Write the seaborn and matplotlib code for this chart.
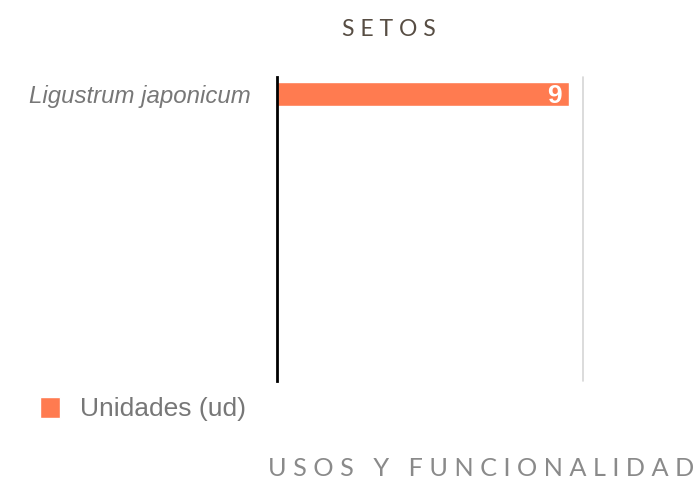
import matplotlib
matplotlib.use('Agg')
import matplotlib.pyplot as plt
import seaborn as sns
import pandas as pd
from matplotlib.patches import Patch

# data
species = ['Ligustrum japonicum']
units = [9]
series_name = 'Unidades (ud)'
title = 'SETOS'
footer = 'USOS Y FUNCIONALIDAD'

df = pd.DataFrame({'especie': species, 'unidades': units})

sns.set_style('white')
plt.rcParams['font.family'] = ['Liberation Sans', 'DejaVu Sans']

fig = plt.figure(figsize=(6.99, 4.83), dpi=100)
ax = fig.add_axes([277 / 699, 1 - 381 / 483, 306 / 699, 304 / 483])

sns.barplot(data=df, x='unidades', y='especie', orient='h', color='#FF7B50',
            saturation=1, width=0.8, ax=ax)

ax.set_xlim(0, 9 * 306 / 292)
ax.set_ylim(9.57, -0.567)
ax.set_xlabel('')
ax.set_ylabel('')
ax.set_xticks([])
for s in ['top', 'bottom', 'right']:
    ax.spines[s].set_visible(False)
ax.spines['left'].set_color('black')
ax.spines['left'].set_linewidth(2)
ax.axvline(ax.get_xlim()[1], color='#d6d6d6', lw=1.2, clip_on=False)

ax.tick_params(axis='y', length=0, pad=19)
for lbl in ax.get_yticklabels():
    lbl.set_fontstyle('italic')
    lbl.set_color('#777777')
    lbl.set_fontsize(17.3)

for i, v in enumerate(units):
    ax.text(v - 0.22, i + 0.05, str(v), ha='right', va='center', color='white',
            fontsize=19, fontweight='bold')

fig.text(389 / 699, 1 - 29 / 483, ' '.join(title), ha='center', va='center',
         fontsize=16.5, color='#574d43', family=['Lato', 'DejaVu Sans'])
fig.text(481.5 / 699, 1 - 468 / 483, ' '.join(footer), ha='center', va='center',
         fontsize=18.2, color='#8a8a8a', family=['Lato', 'DejaVu Sans'])

handles = [Patch(facecolor='#FF7B50', label=series_name)]
fig.legend(handles=handles, loc='center left', bbox_to_anchor=(16 / 699, 1 - 409 / 483),
           frameon=False, fontsize=19, handlelength=0.76, handleheight=0.84,
           handletextpad=0.75, labelcolor='#777777')

fig.savefig('out.png', dpi=100)
